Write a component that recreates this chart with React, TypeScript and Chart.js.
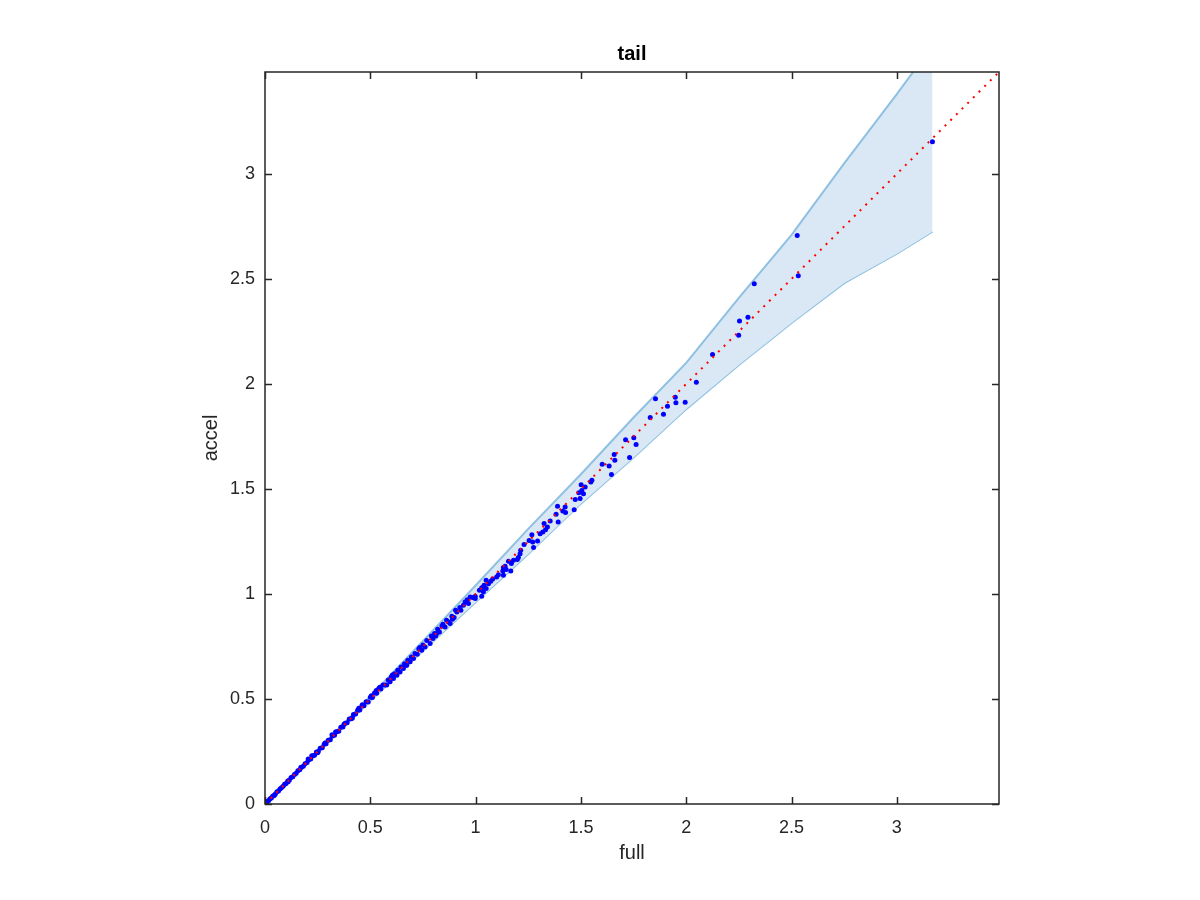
import React, { useEffect, useRef } from "react";
import { Chart, registerables } from "chart.js";

Chart.register(...registerables);

const TITLE = "tail";
const X_LABEL = "full";
const Y_LABEL = "accel";
const AXIS_MIN = 0;
const AXIS_MAX = 3.485;
const TICKS = [0, 0.5, 1, 1.5, 2, 2.5, 3];

// scatter: full (x) vs accel (y)
const FULL = [
  0.003, 0.008, 0.012, 0.018, 0.024, 0.03, 0.036, 0.042, 0.05, 0.057, 0.064, 0.071, 0.078, 0.086, 0.093,
  0.1, 0.108, 0.116, 0.124, 0.132, 0.14, 0.148, 0.156, 0.165, 0.173, 0.182, 0.19, 0.2, 0.208, 0.217,
  0.226, 0.235, 0.244, 0.253, 0.262, 0.272, 0.281, 0.29, 0.3, 0.31, 0.32, 0.33, 0.34, 0.35, 0.36,
  0.37, 0.38, 0.39, 0.4, 0.41, 0.42, 0.43, 0.44, 0.45, 0.46, 0.47, 0.48, 0.49, 0.5, 0.51,
  0.52, 0.53, 0.54, 0.55, 0.56, 0.57, 0.205, 0.222, 0.318, 0.335, 0.445, 0.462, 0.528, 0.545,
  0.578, 0.585, 0.594, 0.6, 0.61, 0.615, 0.626, 0.63, 0.641, 0.646, 0.657, 0.662, 0.673, 0.678, 0.689,
  0.695, 0.705, 0.712, 0.723, 0.73, 0.744, 0.75, 0.76, 0.768, 0.784, 0.79, 0.797, 0.805, 0.816, 0.82,
  0.828, 0.84, 0.855, 0.862, 0.871, 0.879, 0.887, 0.898, 0.905, 0.911, 0.925, 0.93, 0.942, 0.95, 0.966,
  0.974, 0.987, 0.998, 0.998,
  1.018, 1.029, 1.029, 1.037, 1.04, 1.05, 1.05, 1.061, 1.072, 1.081, 1.1, 1.108, 1.129, 1.132, 1.132,
  1.14, 1.145, 1.156, 1.167, 1.17, 1.18, 1.198, 1.203, 1.211, 1.214, 1.23, 1.254, 1.267, 1.271, 1.275,
  1.294, 1.306, 1.319, 1.325, 1.332, 1.341, 1.354, 1.382, 1.389, 1.392, 1.414, 1.425, 1.427, 1.468, 1.473,
  1.49, 1.496, 1.501, 1.504, 1.512, 1.52,
  1.547, 1.552, 1.601, 1.634, 1.645, 1.658, 1.661, 1.712, 1.731, 1.751, 1.762, 1.829, 1.854, 1.892, 1.911,
  1.948, 1.951, 1.995, 2.048, 2.125, 2.249, 2.253, 2.293, 2.323, 2.527, 2.532, 3.169,
  0.045, 0.11, 0.17, 0.25, 0.285, 0.375, 0.415, 0.505, 0.605, 0.67, 0.735, 0.81, 0.845, 0.89, 0.96,
];
const ACCEL = [
  0.003, 0.007, 0.013, 0.017, 0.025, 0.029, 0.037, 0.041, 0.049, 0.058, 0.062, 0.072, 0.077, 0.085, 0.094,
  0.098, 0.109, 0.114, 0.126, 0.13, 0.141, 0.146, 0.158, 0.163, 0.175, 0.18, 0.192, 0.198, 0.211, 0.214,
  0.228, 0.232, 0.247, 0.25, 0.265, 0.268, 0.284, 0.287, 0.303, 0.306, 0.324, 0.327, 0.344, 0.346, 0.365,
  0.366, 0.385, 0.387, 0.405, 0.406, 0.426, 0.428, 0.446, 0.447, 0.467, 0.468, 0.487, 0.486, 0.508, 0.507,
  0.529, 0.527, 0.55, 0.547, 0.567, 0.566, 0.214, 0.23, 0.33, 0.343, 0.456, 0.472, 0.54, 0.556,
  0.566, 0.59, 0.582, 0.606, 0.597, 0.62, 0.613, 0.637, 0.629, 0.652, 0.645, 0.668, 0.661, 0.684, 0.677,
  0.7, 0.693, 0.716, 0.713, 0.738, 0.732, 0.757, 0.748, 0.778, 0.764, 0.8, 0.788, 0.812, 0.812, 0.832,
  0.819, 0.848, 0.843, 0.875, 0.867, 0.859, 0.894, 0.888, 0.922, 0.914, 0.935, 0.922, 0.946, 0.962, 0.954,
  0.986, 0.983, 0.978, 0.989,
  1.018, 1.03, 0.989, 1.01, 1.041, 1.065, 1.026, 1.049, 1.06, 1.071, 1.081, 1.092, 1.109, 1.126, 1.089,
  1.132, 1.116, 1.156, 1.109, 1.145, 1.16, 1.164, 1.173, 1.192, 1.208, 1.235, 1.254, 1.282, 1.247, 1.221,
  1.252, 1.287, 1.295, 1.335, 1.306, 1.319, 1.347, 1.379, 1.418, 1.342, 1.395, 1.414, 1.388, 1.401, 1.45,
  1.482, 1.454, 1.52, 1.493, 1.477, 1.509,
  1.533, 1.541, 1.617, 1.609, 1.569, 1.664, 1.636, 1.734, 1.65, 1.744, 1.712, 1.84, 1.929, 1.855, 1.894,
  1.937, 1.91, 1.913, 2.008, 2.14, 2.232, 2.3, 2.317, 2.477, 2.706, 2.515, 3.153,
  0.042, 0.106, 0.174, 0.244, 0.29, 0.38, 0.409, 0.515, 0.614, 0.661, 0.745, 0.8, 0.856, 0.879, 0.972,
];

// confidence band
const BAND_X = [0, 0.25, 0.5, 0.75, 1.0, 1.25, 1.5, 1.75, 2.0, 2.25, 2.5, 2.75, 3.0, 3.169];
const BAND_UPPER = [0, 0.256, 0.513, 0.776, 1.04, 1.31, 1.57, 1.84, 2.1, 2.41, 2.71, 3.05, 3.38, 3.61];
const BAND_LOWER = [0, 0.246, 0.49, 0.73, 0.96, 1.19, 1.43, 1.65, 1.88, 2.09, 2.29, 2.48, 2.62, 2.725];

// reference line y = x
const REF_X = [AXIS_MIN, AXIS_MAX];
const REF_Y = [AXIS_MIN, AXIS_MAX];

const FONT = '"Liberation Sans", Arial, Helvetica, sans-serif';
const AXIS_COLOR = "#262626";

const framePlugin = {
  id: "matlabFrame",
  afterDraw(chart: any) {
    const { ctx, chartArea: a, scales } = chart;
    const xs = scales.x;
    const ys = scales.y;
    ctx.save();
    ctx.strokeStyle = AXIS_COLOR;
    ctx.lineWidth = 1.5;
    ctx.strokeRect(a.left, a.top, a.right - a.left, a.bottom - a.top);
    const tl = 7;
    ctx.beginPath();
    TICKS.forEach((v) => {
      const px = Math.round(xs.getPixelForValue(v)) + 0.5;
      ctx.moveTo(px, a.bottom);
      ctx.lineTo(px, a.bottom - tl);
      ctx.moveTo(px, a.top);
      ctx.lineTo(px, a.top + tl);
      const py = Math.round(ys.getPixelForValue(v)) + 0.5;
      ctx.moveTo(a.left, py);
      ctx.lineTo(a.left + tl, py);
      ctx.moveTo(a.right, py);
      ctx.lineTo(a.right - tl, py);
    });
    ctx.stroke();

    const cx = (a.left + a.right) / 2;
    const cy = (a.top + a.bottom) / 2;
    ctx.fillStyle = "#000";
    ctx.font = `bold 20px ${FONT}`;
    ctx.textAlign = "center";
    ctx.textBaseline = "alphabetic";
    ctx.fillText(TITLE, cx, a.top - 12);

    ctx.fillStyle = AXIS_COLOR;
    ctx.font = `20px ${FONT}`;
    ctx.fillText(X_LABEL, cx, a.bottom + 55);

    ctx.translate(a.left - 48, cy);
    ctx.rotate(-Math.PI / 2);
    ctx.fillText(Y_LABEL, 0, 0);
    ctx.restore();
  },
};

export default function App() {
  const ref = useRef<HTMLCanvasElement | null>(null);

  useEffect(() => {
    if (!ref.current) return;
    const scatter = FULL.map((x, i) => ({ x, y: ACCEL[i] }));
    const upper = BAND_X.map((x, i) => ({ x, y: BAND_UPPER[i] }));
    const lower = BAND_X.map((x, i) => ({ x, y: BAND_LOWER[i] }));
    const refLine = REF_X.map((x, i) => ({ x, y: REF_Y[i] }));

    const tickFont = { family: FONT, size: 18 };
    const chart = new Chart(ref.current, {
      type: "scatter",
      data: {
        datasets: [
          {
            type: "line",
            label: "lower",
            data: lower,
            borderColor: "#8fc0e1",
            borderWidth: 2,
            pointRadius: 0,
            fill: false,
            tension: 0,
            order: 3,
          } as any,
          {
            type: "line",
            label: "upper",
            data: upper,
            borderColor: "#8fc0e1",
            borderWidth: 2,
            backgroundColor: "#d9e8f4",
            pointRadius: 0,
            fill: { target: 0 },
            tension: 0,
            order: 2,
          } as any,
          {
            type: "scatter",
            label: "data",
            data: scatter,
            backgroundColor: "#0000ff",
            borderWidth: 0,
            pointRadius: 2.5,
            order: 1,
          } as any,
          {
            type: "line",
            label: "y=x",
            data: refLine,
            borderColor: "#ff0000",
            borderWidth: 2,
            borderDash: [2, 6],
            pointRadius: 0,
            fill: false,
            order: 0,
          } as any,
        ],
      },
      options: {
        responsive: false,
        animation: false,
        devicePixelRatio: 1,
        layout: { padding: { left: 205, right: 201, top: 72, bottom: 36 } },
        plugins: {
          legend: { display: false },
          tooltip: { enabled: false },
          title: { display: false },
        },
        scales: {
          x: {
            type: "linear",
            min: AXIS_MIN,
            max: AXIS_MAX,
            grid: { display: false, drawTicks: false },
            border: { display: false },
            afterFit: (s: any) => {
              s.height = 60;
            },
            afterBuildTicks: (s: any) => {
              s.ticks = TICKS.map((v) => ({ value: v }));
            },
            ticks: {
              font: tickFont,
              color: AXIS_COLOR,
              padding: 13,
              maxRotation: 0,
              callback: (v: any) => String(v),
            },
          },
          y: {
            type: "linear",
            min: AXIS_MIN,
            max: AXIS_MAX,
            grid: { display: false, drawTicks: false },
            border: { display: false },
            afterFit: (s: any) => {
              s.width = 60;
            },
            afterBuildTicks: (s: any) => {
              s.ticks = TICKS.map((v) => ({ value: v }));
            },
            ticks: {
              font: tickFont,
              color: AXIS_COLOR,
              padding: 10,
              callback: (v: any) => String(v),
            },
          },
        },
      },
      plugins: [framePlugin],
    });
    return () => chart.destroy();
  }, []);

  return (
    <div
      style={{
        position: "fixed",
        left: 0,
        top: 0,
        width: 1200,
        height: 900,
        background: "#fff",
      }}
    >
      <canvas ref={ref} width={1200} height={900} style={{ width: 1200, height: 900 }} />
    </div>
  );
}
